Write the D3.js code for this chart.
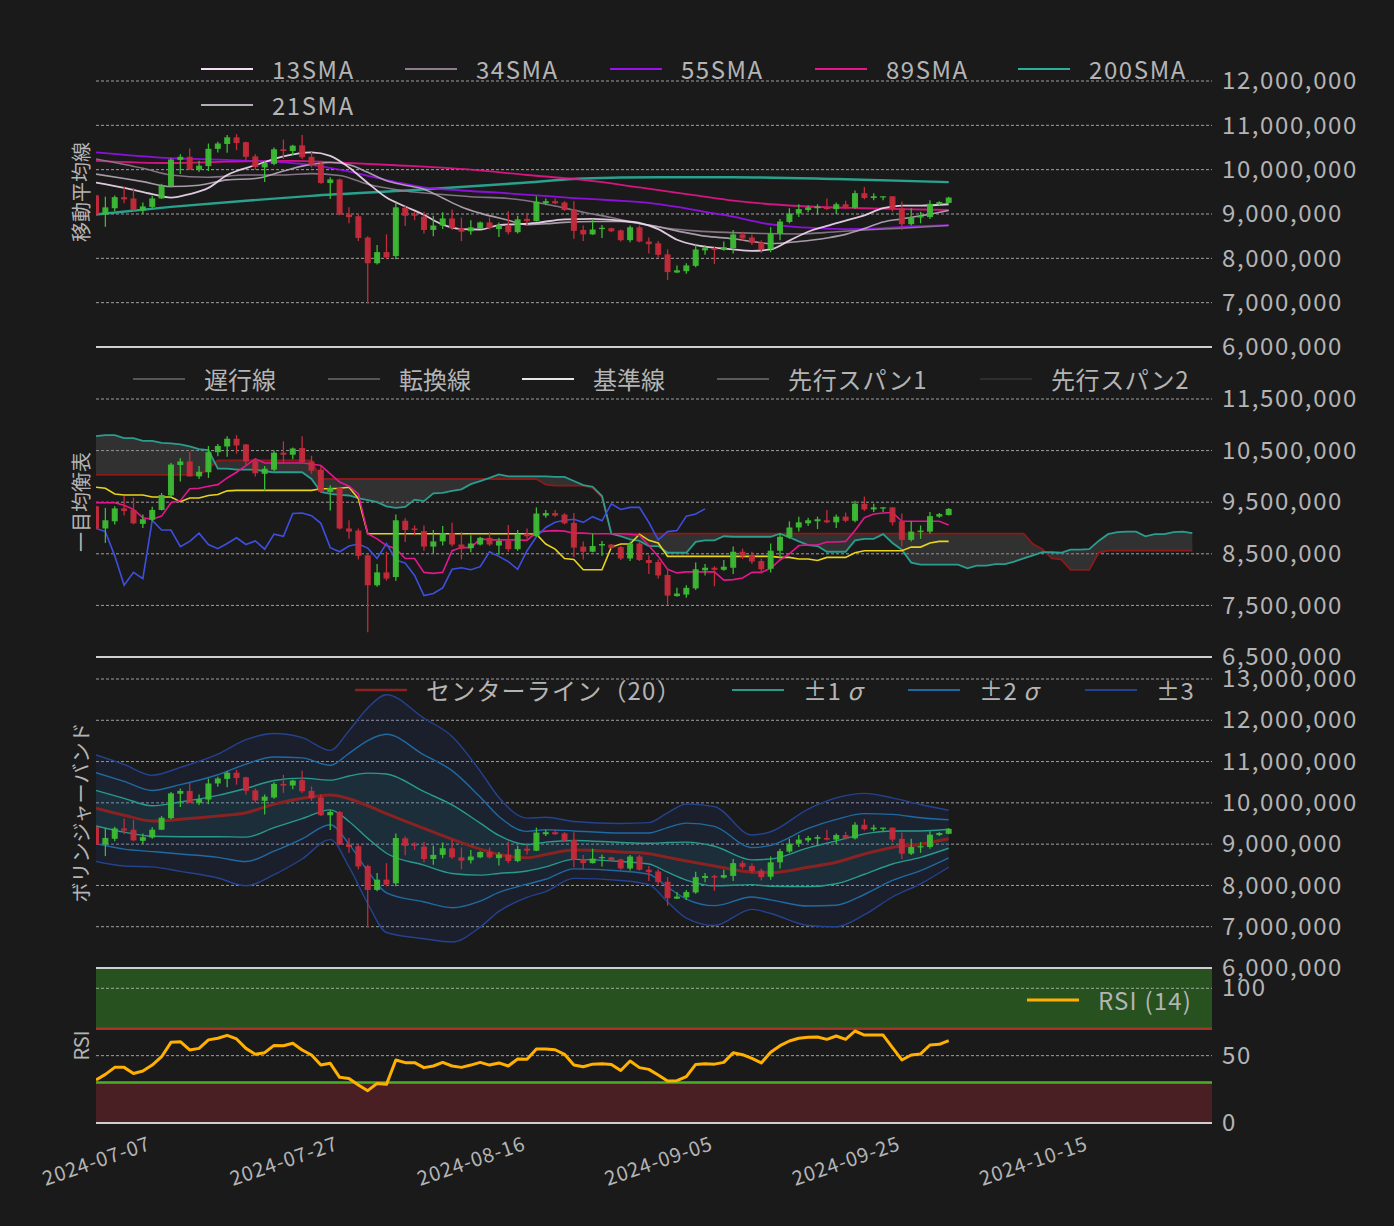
<!DOCTYPE html>
<html><head><meta charset="utf-8">
<script src="https://cdn.jsdelivr.net/npm/d3@7"></script>
<style>
body{margin:0;background:#1a1a1a;}
svg text{font-family:"Noto Sans CJK JP","Noto Sans",sans-serif;fill:#b4b4b4;}
</style></head>
<body><svg id="c" width="1394" height="1226"></svg>
<script>
// ---------- DATA (prices in millions of JPY) ----------
const startDate = "2024-07-07";
const openP  = [9.42,8.99,9.13,9.38,9.35,9.08,9.16,9.35,9.63,10.22,10.29,10.00,10.08,10.47,10.58,10.73,10.62,10.30,10.05,10.13,10.46,10.42,10.55,10.29,10.13,9.70,9.78,8.99,8.95,8.47,7.89,8.14,8.05,9.14,8.99,8.94,8.64,8.74,8.90,8.68,8.61,8.68,8.81,8.66,8.75,8.59,8.89,8.84,9.24,9.29,9.26,9.10,8.64,8.54,8.66,8.68,8.63,8.41,8.70,8.38,8.34,8.09,7.68,7.71,7.83,8.18,8.23,8.19,8.23,8.54,8.47,8.36,8.21,8.56,8.82,9.01,9.09,9.13,9.15,9.11,9.22,9.14,9.47,9.36,9.38,9.40,9.13,8.77,8.92,8.93,9.22,9.25];
const highP  = [9.43,9.39,9.42,9.62,9.59,9.26,9.41,9.68,10.26,10.35,10.48,10.20,10.59,10.63,10.78,10.80,10.63,10.35,10.20,10.50,10.68,10.56,10.78,10.40,10.20,9.83,9.80,9.15,8.99,8.50,8.30,8.54,9.26,9.19,9.05,9.05,8.96,9.04,9.10,8.92,8.86,8.83,8.92,8.81,9.06,8.96,8.99,9.40,9.35,9.35,9.29,9.29,8.74,8.89,8.75,8.69,8.65,8.74,8.74,8.47,8.39,8.20,7.84,7.89,8.33,8.30,8.26,8.38,8.64,8.60,8.54,8.41,8.70,8.89,9.13,9.22,9.20,9.22,9.35,9.26,9.30,9.53,9.61,9.47,9.40,9.40,9.28,9.13,9.05,9.31,9.29,9.39];
const lowP   = [8.98,8.71,9.07,9.24,9.07,9.00,9.13,9.34,9.60,9.90,10.00,9.95,9.97,10.39,10.38,10.44,10.20,10.00,9.72,10.10,10.24,10.33,10.24,10.05,9.68,9.34,8.97,8.79,8.39,6.98,7.86,7.98,7.98,8.73,8.86,8.56,8.50,8.66,8.64,8.39,8.53,8.66,8.65,8.48,8.54,8.56,8.75,8.83,9.20,9.22,9.07,8.44,8.39,8.53,8.46,8.59,8.38,8.36,8.36,8.11,8.02,7.51,7.67,7.65,7.80,8.08,7.87,8.17,8.11,8.40,8.30,8.12,8.14,8.41,8.79,8.93,9.04,8.98,9.09,9.00,9.11,9.11,9.33,9.31,9.31,9.05,8.64,8.74,8.79,8.89,9.20,9.24];
const closeP = [8.99,9.15,9.38,9.33,9.09,9.17,9.35,9.64,10.23,10.29,10.00,10.09,10.47,10.59,10.73,10.60,10.29,10.06,10.15,10.46,10.42,10.54,10.28,10.11,9.70,9.78,8.99,8.93,8.46,7.89,8.14,8.02,9.15,8.96,8.96,8.64,8.74,8.90,8.68,8.60,8.70,8.81,8.68,8.75,8.59,8.88,8.84,9.28,9.29,9.24,9.09,8.62,8.54,8.65,8.69,8.61,8.41,8.70,8.38,8.32,8.08,7.69,7.73,7.84,8.20,8.23,8.19,8.25,8.54,8.45,8.35,8.20,8.56,8.83,9.01,9.11,9.15,9.17,9.11,9.22,9.14,9.47,9.36,9.40,9.40,9.11,8.77,8.93,8.95,9.23,9.27,9.37];

// moving averages: [day index, value]
const sma13 = [[0,9.71],[3,9.59],[6,9.45],[8,9.37],[10,9.45],[12,9.59],[14,9.88],[17,10.1],[20,10.3],[23,10.39],[25,10.31],[27,10.05],[29,9.70],[31,9.37],[33,9.17],[35,8.98],[37,8.76],[39,8.66],[41,8.65],[43,8.75],[45,8.77],[47,8.80],[50,8.88],[53,8.89],[56,8.85],[58,8.80],[60,8.66],[62,8.42],[64,8.30],[66,8.24],[68,8.20],[70,8.17],[72,8.20],[74,8.40],[76,8.60],[78,8.73],[80,8.85],[82,8.97],[84,9.13],[86,9.19],[88,9.19],[91,9.22]];
const sma21 = [[0,9.90],[3,9.80],[5,9.73],[8,9.62],[11,9.65],[14,9.77],[17,9.80],[20,9.97],[22,10.08],[25,10.16],[27,10.11],[29,9.94],[31,9.75],[33,9.65],[35,9.56],[37,9.36],[39,9.16],[41,9.02],[44,8.86],[46,8.76],[48,8.78],[50,8.81],[53,8.83],[56,8.83],[59,8.75],[62,8.62],[65,8.50],[68,8.44],[70,8.38],[72,8.33],[75,8.38],[78,8.46],[80,8.54],[82,8.67],[84,8.82],[86,8.89],[88,8.96],[91,9.08]];
const sma34 = [[0,10.24],[5,10.03],[8,9.88],[12,9.83],[16,9.88],[20,9.88],[23,9.91],[26,9.87],[29,9.67],[33,9.52],[37,9.44],[40,9.39],[44,9.35],[46,9.30],[49,9.18],[52,9.04],[55,8.92],[58,8.78],[61,8.68],[64,8.62],[68,8.58],[71,8.56],[75,8.55],[79,8.60],[82,8.64],[86,8.68],[91,8.74]];
const sma55 = [[0,10.39],[8,10.26],[14,10.22],[22,10.13],[26,10.0],[29,9.86],[32,9.72],[35,9.60],[39,9.53],[43,9.48],[47,9.42],[51,9.36],[55,9.31],[59,9.25],[62,9.16],[65,9.05],[68,8.94],[71,8.80],[74,8.72],[77,8.68],[80,8.66],[83,8.67],[86,8.71],[91,8.75]];
const sma89 = [[0,10.20],[8,10.15],[14,10.18],[21,10.20],[25,10.17],[32,10.10],[40,10.0],[46,9.88],[52,9.77],[58,9.60],[64,9.42],[68,9.30],[75,9.18],[82,9.13],[86,9.11],[91,9.09]];
const sma200 = [[0,8.99],[8,9.16],[16,9.30],[23,9.41],[34,9.54],[46,9.71],[52,9.80],[60,9.83],[68,9.83],[79,9.79],[91,9.72]];

// Ichimoku
const tenkan = [9.49,9.49,9.49,9.44,9.36,9.20,9.17,9.23,9.49,9.53,9.76,9.77,9.81,9.84,9.97,10.08,10.21,10.34,10.26,10.26,10.26,10.26,10.26,10.24,10.21,10.05,9.89,9.81,9.66,8.89,8.79,8.66,8.60,8.41,8.41,8.14,8.12,8.14,8.56,8.62,8.62,8.79,8.77,8.77,8.77,8.77,8.76,8.92,8.94,8.95,8.94,8.90,8.90,8.89,8.89,8.89,8.89,8.88,8.86,8.66,8.45,8.20,8.13,8.15,8.15,8.15,8.15,7.99,8.00,8.03,8.14,8.14,8.22,8.38,8.50,8.66,8.67,8.67,8.73,8.73,8.74,8.95,9.20,9.27,9.29,9.30,9.13,9.13,9.13,9.13,9.13,9.06];
const kijun = [9.79,9.77,9.66,9.64,9.64,9.64,9.60,9.60,9.60,9.51,9.58,9.58,9.63,9.65,9.72,9.73,9.73,9.73,9.73,9.73,9.73,9.73,9.73,9.73,9.76,9.76,9.77,9.79,9.57,8.89,8.89,8.89,8.89,8.89,8.89,8.89,8.89,8.89,8.89,8.89,8.89,8.89,8.89,8.89,8.89,8.89,8.89,8.88,8.69,8.59,8.41,8.39,8.19,8.19,8.19,8.63,8.69,8.69,8.88,8.76,8.71,8.45,8.45,8.45,8.45,8.45,8.45,8.45,8.45,8.45,8.45,8.45,8.45,8.43,8.43,8.40,8.40,8.37,8.43,8.43,8.43,8.52,8.56,8.56,8.56,8.56,8.56,8.63,8.63,8.71,8.74,8.74];
const senkouA = [10.78,10.80,10.80,10.74,10.74,10.69,10.69,10.65,10.64,10.62,10.58,10.53,10.51,10.15,10.15,10.13,10.13,10.13,10.10,10.08,10.08,10.08,10.08,9.95,9.70,9.66,9.64,9.63,9.58,9.54,9.50,9.42,9.39,9.41,9.55,9.52,9.67,9.68,9.72,9.75,9.85,9.91,9.97,10.04,10.00,10.00,10.00,10.00,10.00,9.99,9.99,9.91,9.83,9.80,9.62,8.89,8.84,8.78,8.75,8.65,8.65,8.52,8.52,8.52,8.73,8.76,8.76,8.84,8.83,8.83,8.83,8.83,8.83,8.89,8.82,8.74,8.67,8.65,8.54,8.54,8.54,8.76,8.79,8.79,8.88,8.71,8.58,8.33,8.29,8.29,8.29,8.29,8.29,8.22,8.27,8.27,8.30,8.30,8.35,8.41,8.47,8.53,8.53,8.52,8.58,8.58,8.59,8.75,8.88,8.92,8.93,8.93,8.84,8.88,8.88,8.92,8.93,8.90];
const senkouB = [10.03,10.03,10.03,10.03,10.03,10.03,10.03,10.03,10.03,10.03,10.03,10.03,10.15,10.31,10.31,10.31,10.31,10.31,10.31,10.31,10.31,10.31,10.31,10.31,9.95,9.95,9.95,9.95,9.95,9.95,9.95,9.95,9.95,9.95,9.95,9.95,9.95,9.95,9.95,9.95,9.95,9.95,9.95,9.95,9.95,9.95,9.95,9.95,9.84,9.82,9.82,9.82,9.82,9.78,9.60,8.89,8.89,8.89,8.89,8.89,8.89,8.89,8.89,8.89,8.89,8.89,8.89,8.89,8.89,8.89,8.89,8.89,8.89,8.89,8.89,8.89,8.89,8.89,8.89,8.89,8.89,8.89,8.89,8.89,8.89,8.89,8.89,8.89,8.89,8.89,8.89,8.89,8.89,8.89,8.89,8.89,8.89,8.89,8.89,8.89,8.69,8.59,8.41,8.39,8.19,8.19,8.19,8.52,8.56,8.56,8.56,8.56,8.56,8.56,8.56,8.56,8.56,8.56];
const chikouLag = 26;

// Bollinger bands (20): sample day, centre, sigma
const bbDay = [0,3,6,9,13,16,19,22,25,27,29,31,35,38,41,43,46,48,51,56,59,61,63,66,70,72,76,79,82,85,88,91];
const bbMid = [9.87,9.70,9.56,9.60,9.68,9.76,9.97,10.11,10.19,10.10,9.93,9.74,9.38,9.12,8.88,8.75,8.67,8.75,8.86,8.81,8.77,8.68,8.59,8.47,8.32,8.31,8.44,8.56,8.76,8.92,9.00,9.13];
const bbSd  = [0.43,0.41,0.37,0.42,0.50,0.59,0.57,0.49,0.36,0.55,0.79,0.96,0.89,0.83,0.63,0.46,0.32,0.30,0.23,0.23,0.25,0.36,0.46,0.48,0.30,0.33,0.47,0.52,0.49,0.40,0.32,0.23];

// RSI (14)
const rsi = [32,36.1,41.3,41.3,36.8,38.6,43,49.2,59.9,60.4,54.2,55.4,61.7,62.9,65.1,62.4,55.4,51,52.2,57.6,57.4,59.2,54.2,50.5,43.0,44.3,33.9,33.1,28.2,24.0,29.4,28.7,46.8,44.8,44.8,41.1,42.3,45.0,42.3,41.3,43.0,45.0,43.0,44.6,42.3,47.5,47.3,55,55,54.4,51,43,41.8,43.7,44.0,43.5,39.0,46.0,41.1,39.8,35.6,31.2,31.4,34.4,43.5,44.0,43.7,45.0,52.2,50.7,48.0,44.6,52.5,57.4,60.9,62.9,63.6,63.9,62.1,64.6,62.1,68.3,65.3,65.3,65.3,55.9,46.8,50.5,51.3,57.9,58.4,61.1];

const xTickLabels = ["2024-07-07","2024-07-27","2024-08-16","2024-09-05","2024-09-25","2024-10-15"];
const yTicks1 = [6,7,8,9,10,11,12];
const yTicks2 = [6.5,7.5,8.5,9.5,10.5,11.5];
const yTicks3 = [6,7,8,9,10,11,12,13];
const yTicks4 = [0,50,100];

// ---------- DRAW ----------
const svg = d3.select("#c");
svg.append("rect").attr("width",1394).attr("height",1226).attr("fill","#1a1a1a");
const X0 = 96, X1 = 1212;
const parseD = d3.utcParse("%Y-%m-%d");
const t0 = parseD(startDate);
const dayAt = i => d3.utcDay.offset(t0, i);
const x = d3.scaleUtc().domain([t0, new Date(t0.getTime() + 119.1*864e5)]).range([X0, X1]);
const xi = i => x(dayAt(i));
const UP = "#3dbb35", DOWN = "#c42b3b";
const GRID = "#b8b8b8", TXT = "#b4b4b4";
const FONT = '"Noto Sans CJK JP","Noto Sans",sans-serif';
const fmt = v => d3.format(",")(Math.round(v*1e6));

const panels = [
  {top:37,  bottom:347,  y:d3.scaleLinear().domain([6,12]).range([347,81]),     ticks:yTicks1, grid:[7,8,9,10,11,12], label:"移動平均線", f:fmt},
  {top:347, bottom:657,  y:d3.scaleLinear().domain([6.5,11.5]).range([657,399]),ticks:yTicks2, grid:[7.5,8.5,9.5,10.5,11.5], label:"一目均衡表", f:fmt},
  {top:657, bottom:968,  y:d3.scaleLinear().domain([6,13]).range([968,679]),    ticks:yTicks3, grid:[7,8,9,10,11,12,13], label:"ボリンジャーバンド", f:fmt},
  {top:968, bottom:1123, y:d3.scaleLinear().domain([0,100]).range([1123,988.3]),ticks:yTicks4, grid:[50,100], label:"RSI", f:d3.format("d")}
];

const defs = svg.append("defs");
panels.forEach((p,k)=>{
  defs.append("clipPath").attr("id","clip"+k).append("rect")
    .attr("x",X0).attr("y",p.top).attr("width",X1-X0).attr("height",p.bottom-p.top);
});

// RSI backgrounds first
{
  const p = panels[3], y = p.y;
  svg.append("rect").attr("x",X0).attr("width",X1-X0).attr("y",p.top).attr("height",y(70)-p.top).attr("fill","#27511f");
  svg.append("rect").attr("x",X0).attr("width",X1-X0).attr("y",y(30)).attr("height",p.bottom-y(30)).attr("fill","#4a1f23");
}

// grids + y axes + labels
panels.forEach((p,k)=>{
  const g = svg.append("g");
  g.selectAll("line").data(p.grid).join("line")
    .attr("x1",X0).attr("x2",X1).attr("y1",d=>p.y(d)).attr("y2",d=>p.y(d))
    .attr("stroke",GRID).attr("stroke-width",1).attr("stroke-dasharray","3,2").attr("opacity",0.85);
  const ax = svg.append("g").attr("transform",`translate(${X1},0)`)
    .call(d3.axisRight(p.y).tickValues(p.ticks).tickFormat(p.f).tickSize(0).tickPadding(10));
  ax.select(".domain").remove();
  ax.selectAll("text").attr("font-size",24).attr("fill",TXT).attr("letter-spacing",1.6).style("font-family",FONT);
  svg.append("text").attr("transform",`translate(80,${(p.top+p.bottom)/2}) rotate(-90)`)
    .attr("text-anchor","middle").attr("dominant-baseline","central").attr("font-size",20).text(p.label);
});

// candles
function candles(k){
  const p = panels[k], y = p.y;
  const g = svg.append("g").attr("clip-path",`url(#clip${k})`);
  const idx = d3.range(closeP.length);
  g.selectAll("line.w").data(idx).join("line")
    .attr("x1",i=>xi(i)).attr("x2",i=>xi(i)).attr("y1",i=>y(highP[i])).attr("y2",i=>y(lowP[i]))
    .attr("stroke",i=>closeP[i]>=openP[i]?UP:DOWN).attr("stroke-width",1.3);
  g.selectAll("rect.b").data(idx).join("rect")
    .attr("x",i=>xi(i)-3).attr("width",6)
    .attr("y",i=>y(Math.max(openP[i],closeP[i])))
    .attr("height",i=>Math.max(1.2, Math.abs(y(openP[i])-y(closeP[i]))))
    .attr("fill",i=>closeP[i]>=openP[i]?UP:DOWN).attr("opacity",0.95);
  return g;
}

// ---- Panel 1: SMAs
{
  const p = panels[0], y = p.y;
  const g = svg.append("g").attr("clip-path","url(#clip0)");
  const ln = d3.line().x(d=>xi(d[0])).y(d=>y(d[1])).curve(d3.curveMonotoneX);
  const series = [
    [sma200,"#2ab09a",2.4],[sma89,"#e8158c",1.8],[sma55,"#9a10f0",1.8],
    [sma34,"#8e7c8e",1.6],[sma21,"#b8aab8",1.6],[sma13,"#f4dcf4",1.8]
  ];
  series.forEach(s=>g.append("path").attr("d",ln(s[0])).attr("fill","none").attr("stroke",s[1]).attr("stroke-width",s[2]).attr("opacity",0.9));
  candles(0);
}

// ---- Panel 2: Ichimoku
{
  const p = panels[1], y = p.y;
  const g = svg.append("g").attr("clip-path","url(#clip1)");
  const cloud = d3.range(senkouA.length);
  g.append("path").datum(cloud)
    .attr("d",d3.area().x(i=>xi(i)).y0(i=>y(senkouA[i])).y1(i=>y(senkouB[i])))
    .attr("fill","rgba(110,110,110,0.28)");
  const L = arr => d3.line().x(i=>xi(i)).y(i=>y(arr[i]))(d3.range(arr.length));
  g.append("path").attr("d",L(senkouB)).attr("fill","none").attr("stroke","#8b1a1a").attr("stroke-width",1.8);
  g.append("path").attr("d",L(senkouA)).attr("fill","none").attr("stroke","#2a9d8f").attr("stroke-width",1.8);
  g.append("path").attr("d",L(kijun)).attr("fill","none").attr("stroke","#e8d41c").attr("stroke-width",1.6);
  g.append("path").attr("d",L(tenkan)).attr("fill","none").attr("stroke","#e5168f").attr("stroke-width",1.6);
  const chik = d3.range(closeP.length - chikouLag);
  g.append("path").attr("d",d3.line().x(i=>xi(i)).y(i=>y(closeP[i+chikouLag]))(chik))
    .attr("fill","none").attr("stroke","#3c4fe0").attr("stroke-width",1.6);
  candles(1);
}

// ---- Panel 3: Bollinger
{
  const p = panels[2], y = p.y;
  const g = svg.append("g").attr("clip-path","url(#clip2)");
  const idx = d3.range(bbDay.length);
  const band = k => d3.area().x(i=>xi(bbDay[i])).y0(i=>y(bbMid[i]-k*bbSd[i])).y1(i=>y(bbMid[i]+k*bbSd[i])).curve(d3.curveMonotoneX);
  const edge = k => d3.line().x(i=>xi(bbDay[i])).y(i=>y(bbMid[i]+k*bbSd[i])).curve(d3.curveMonotoneX);
  g.append("path").datum(idx).attr("d",band(3)).attr("fill","rgba(40,70,160,0.13)");
  g.append("path").datum(idx).attr("d",band(2)).attr("fill","rgba(30,120,170,0.05)");
  g.append("path").datum(idx).attr("d",band(1)).attr("fill","rgba(30,170,140,0.09)");
  [[3,"#23428f"],[-3,"#23428f"],[2,"#1f6aa0"],[-2,"#1f6aa0"],[1,"#289a8c"],[-1,"#289a8c"]].forEach(([k,c])=>{
    g.append("path").datum(idx).attr("d",edge(k)).attr("fill","none").attr("stroke",c).attr("stroke-width",1.4);
  });
  g.append("path").datum(idx).attr("d",edge(0)).attr("fill","none").attr("stroke","#8b2222").attr("stroke-width",3);
  candles(2);
}

// ---- Panel 4: RSI
{
  const p = panels[3], y = p.y;
  svg.append("line").attr("x1",X0).attr("x2",X1).attr("y1",y(70)).attr("y2",y(70)).attr("stroke","#a83228").attr("stroke-width",2.5);
  svg.append("line").attr("x1",X0).attr("x2",X1).attr("y1",y(30)).attr("y2",y(30)).attr("stroke","#4caf28").attr("stroke-width",2.5);
  const g = svg.append("g").attr("clip-path","url(#clip3)");
  g.append("path").datum(d3.range(rsi.length))
    .attr("d",d3.line().x(i=>xi(i)).y(i=>y(rsi[i])))
    .attr("fill","none").attr("stroke","#ffb000").attr("stroke-width",3).attr("stroke-linejoin","round");
}

// panel borders
[347,657,968,1123].forEach(yv=>{
  svg.append("line").attr("x1",X0).attr("x2",X1).attr("y1",yv).attr("y2",yv).attr("stroke","#cfcfcf").attr("stroke-width",2);
});

// x axis
{
  const ax = svg.append("g").attr("transform","translate(0,1123)")
    .call(d3.axisBottom(x).tickValues(xTickLabels.map(parseD)).tickFormat(d3.utcFormat("%Y-%m-%d")).tickSize(0));
  ax.select(".domain").remove();
  ax.selectAll("text").attr("y",0).attr("dy","0.35em").attr("text-anchor","middle")
    .attr("transform","translate(0,38) rotate(-19)").attr("font-size",20).attr("letter-spacing",1.0).attr("fill",TXT)
    .style("font-family",FONT);
}

// legends
function legend(items, y){
  items.forEach(it=>{
    svg.append("line").attr("x1",it.x).attr("x2",it.x+52).attr("y1",y).attr("y2",y)
      .attr("stroke",it.c).attr("stroke-width",it.w||2);
    const t = svg.append("text").attr("x",it.x+71).attr("y",y-1).attr("dominant-baseline","central")
      .attr("font-size",24).attr("letter-spacing",it.ls||0);
    if (it.sig){ t.append("tspan").text(it.t); t.append("tspan").attr("font-style","italic").text("σ"); }
    else t.text(it.t);
  });
}
legend([{x:201,c:"#f4dcf4",t:"13SMA",ls:1.5},{x:405,c:"#8e7c8e",t:"34SMA",ls:1.5},{x:610,c:"#9a10f0",t:"55SMA",ls:1.5},{x:815,c:"#e8158c",t:"89SMA",ls:1.5},{x:1018,c:"#2ab09a",t:"200SMA",ls:1.6}], 69);
legend([{x:201,c:"#b8aab8",t:"21SMA",ls:1.5}], 105);
legend([{x:133,c:"#555555",t:"遅行線"},{x:328,c:"#555555",t:"転換線"},{x:522,c:"#e6e6e6",t:"基準線"},{x:717,c:"#5a5a5a",t:"先行スパン1",ls:0.8},{x:980,c:"#2e2e2e",t:"先行スパン2",ls:0.6}], 379);
legend([{x:355,c:"#8b2222",t:"センターライン（20）",w:2.5,ls:1.2},{x:732,c:"#289a8c",t:"±1 ",sig:true,ls:0.5},{x:908,c:"#1f6aa0",t:"±2 ",sig:true,ls:0.5},{x:1085,c:"#23428f",t:"±3",ls:0.5}], 690);
legend([{x:1027,c:"#ffb000",t:"RSI (14)",w:3,ls:1.2}], 1000);
</script></body></html>
